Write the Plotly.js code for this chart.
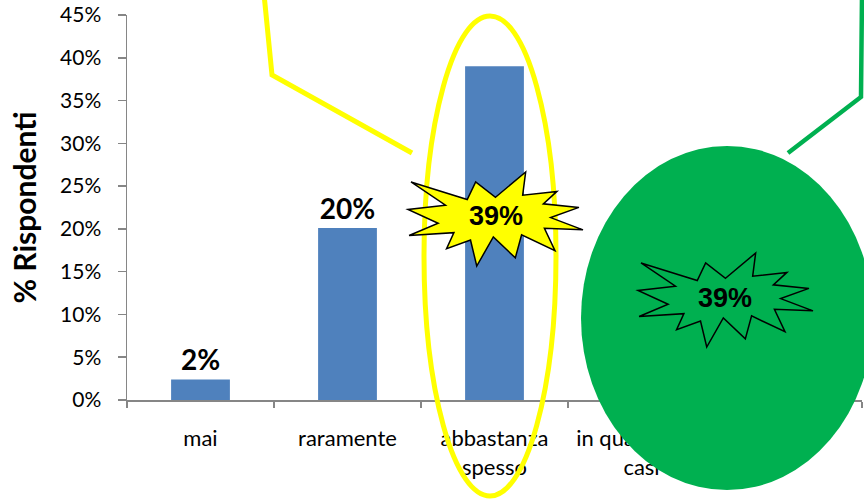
<!DOCTYPE html>
<html>
<head>
<meta charset="utf-8">
<script src="https://cdn.plot.ly/plotly-3.0.1.min.js"></script>
<style>
  html, body { margin: 0; padding: 0; background: #ffffff; }
  #chart { width: 864px; height: 503px; }
</style>
</head>
<body>
<div id="chart"></div>
<script>
// Survey answers: how often respondents do it
const categories = ['mai', 'raramente', 'abbastanza<br>spesso', 'in quasi tutti i<br>casi', 'sempre'];
const shares = [0.024, 0.201, 0.39, 0.215, 0.175];
const labelled = [true, true, false, false, false];
const tickValues = [0, 0.05, 0.10, 0.15, 0.20, 0.25, 0.30, 0.35, 0.40, 0.45];
const tickLabels = ['0%', '5%', '10%', '15%', '20%', '25%', '30%', '35%', '40%', '45%'];

const pct = v => Math.round(v * 100) + '%';
const barText = shares.map((v, i) => labelled[i] ? pct(v) : '');
const highlightText = pct(shares[2]);
const groupText = pct(shares[3] + shares[4]);

// Plot frame in page pixels, used to place the call-out drawings
const FRAME = { l: 127, r: 862, t: 15, b: 400 };
const px = x => (x - FRAME.l) / (FRAME.r - FRAME.l);
const py = y => (FRAME.b - y) / (FRAME.b - FRAME.t);

// "Explosion" star outline on a 21600 grid
const SEAL = [[10800,5800],[14522,0],[14155,5325],[18380,4457],[16702,7315],[21097,8137],
  [17607,10475],[21600,13290],[16837,12942],[18145,18095],[14020,14457],[13247,19737],
  [10532,14935],[8485,21600],[7715,15627],[4762,17617],[5667,13937],[135,14587],
  [3722,11775],[0,8615],[4627,7617],[370,2295],[7312,6320],[8352,2295]];
function burstPath(x0, y0, w, h) {
  return SEAL.map((p, i) => (i ? 'L' : 'M') + px(x0 + p[0] / 21600 * w).toFixed(5) + ',' +
    py(y0 + p[1] / 21600 * h).toFixed(5)).join(' ') + ' Z';
}
function polyline(pts) {
  return pts.map((p, i) => (i ? 'L' : 'M') + px(p[0]).toFixed(5) + ',' + py(p[1]).toFixed(5)).join(' ');
}
function ellipse(cx, cy, rx, ry, style) {
  return Object.assign({ type: 'circle', xref: 'paper', yref: 'paper', layer: 'above',
    x0: px(cx - rx), x1: px(cx + rx), y0: py(cy + ry), y1: py(cy - ry) }, style);
}

const YELLOW = '#FFFF00';
const GREEN = '#00B050';
const AXIS = '#868686';

const shapes = [
  ellipse(490, 256, 66, 240, { line: { color: YELLOW, width: 5 }, fillcolor: 'rgba(0,0,0,0)' }),
  { type: 'path', xref: 'paper', yref: 'paper', layer: 'above',
    path: polyline([[264, -6], [272, 75], [412, 153]]),
    line: { color: YELLOW, width: 5 } },
  { type: 'path', xref: 'paper', yref: 'paper', layer: 'above',
    path: burstPath(408, 172, 175, 94),
    fillcolor: YELLOW, line: { color: '#000000', width: 1.5 } },
  { type: 'path', xref: 'paper', yref: 'paper', layer: 'above',
    path: polyline([[862, -6], [861, 97], [788, 153]]),
    line: { color: GREEN, width: 4.5 } },
  ellipse(727, 318, 146, 172, { line: { width: 0 }, fillcolor: GREEN }),
  { type: 'path', xref: 'paper', yref: 'paper', layer: 'above',
    path: burstPath(638, 253, 175, 94),
    fillcolor: 'rgba(0,0,0,0)', line: { color: '#000000', width: 1.5 } }
];

const burstFont = { family: 'Liberation Sans, Arial, sans-serif', size: 27, color: '#000000', weight: 'bold' };
const annotations = [
  { xref: 'paper', yref: 'paper', x: px(496), y: py(216), text: '<b>' + highlightText + '</b>',
    showarrow: false, xanchor: 'center', yanchor: 'middle', font: burstFont },
  { xref: 'paper', yref: 'paper', x: px(725), y: py(298), text: '<b>' + groupText + '</b>',
    showarrow: false, xanchor: 'center', yanchor: 'middle', font: burstFont }
];

const trace = {
  type: 'bar',
  x: categories,
  y: shares,
  width: 0.4,
  marker: { color: '#4F81BD', line: { width: 0 } },
  text: barText,
  textposition: 'outside',
  cliponaxis: false,
  textfont: { family: 'Lato, sans-serif', size: 28, color: '#000000', weight: 'bold' },
  hoverinfo: 'skip'
};

const layout = {
  width: 864,
  height: 503,
  margin: { l: FRAME.l, r: 864 - FRAME.r, t: FRAME.t, b: 503 - FRAME.b, pad: 0 },
  paper_bgcolor: '#ffffff',
  plot_bgcolor: '#ffffff',
  showlegend: false,
  font: { family: 'Lato, sans-serif', color: '#000000' },
  xaxis: {
    type: 'category',
    range: [-0.5, 4.5],
    showline: true, linecolor: AXIS, linewidth: 1.5,
    ticks: 'outside', tickson: 'boundaries', ticklen: 6, tickcolor: AXIS, tickwidth: 1.5,
    ticklabelstandoff: 18,
    tickfont: { family: 'Lato, sans-serif', size: 22, color: '#000000' },
    showgrid: false, zeroline: false, automargin: false, fixedrange: true
  },
  yaxis: {
    range: [0, 0.45],
    tickvals: tickValues,
    ticktext: tickLabels,
    showline: true, linecolor: AXIS, linewidth: 1.5,
    ticks: 'outside', ticklen: 8, tickcolor: AXIS, tickwidth: 1.5,
    ticklabelstandoff: 12,
    tickfont: { family: 'Lato, sans-serif', size: 21, color: '#000000' },
    title: { text: '% Rispondenti', standoff: 14,
      font: { family: 'Lato, sans-serif', size: 30, color: '#000000', weight: 'bold' } },
    showgrid: false, zeroline: false, automargin: false, fixedrange: true
  },
  shapes: shapes,
  annotations: annotations
};

Plotly.newPlot('chart', [trace], layout, { displayModeBar: false, staticPlot: true });
</script>
</body>
</html>
